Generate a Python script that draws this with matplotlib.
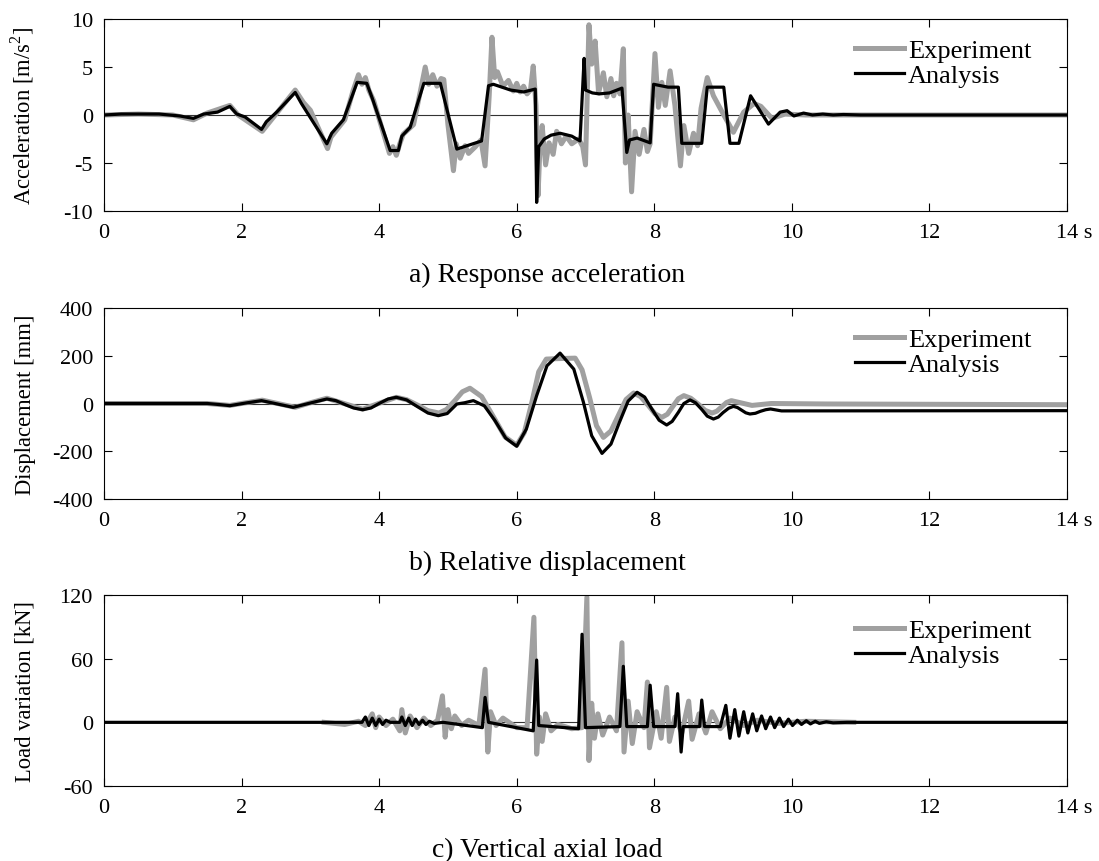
#!/usr/bin/env python3
# -*- coding: utf-8 -*-

import matplotlib
matplotlib.use('Agg')
import matplotlib.pyplot as plt
import matplotlib.transforms as mtrans

plt.rcParams['font.family'] = ['Liberation Serif', 'DejaVu Serif']
plt.rcParams['mathtext.fontset'] = 'custom'
plt.rcParams['mathtext.rm'] = 'Liberation Serif'
plt.rcParams['axes.unicode_minus'] = False

# a) response acceleration [m/s2]
acc_ana_t = [0, 0.25, 0.6, 0.8, 1.1, 1.3, 1.45, 1.65, 1.83, 1.93, 2.05, 2.29, 2.36,
             2.51, 2.78, 2.87, 3.24, 3.31, 3.48, 3.68, 3.82, 3.9, 4.16, 4.28, 4.33,
             4.45, 4.65, 4.89, 5.13, 5.49, 5.59, 5.66, 5.91, 6.1, 6.27, 6.29, 6.32,
             6.4, 6.5, 6.63, 6.8, 6.92, 6.98, 7.0, 7.1, 7.2, 7.35, 7.53, 7.6, 7.64,
             7.75, 7.94, 7.99, 8.2, 8.35, 8.40, 8.69, 8.77, 9.01, 9.10, 9.23, 9.40,
             9.66, 9.83, 9.93, 10.03, 10.17, 10.3, 10.45, 10.6, 10.75, 11.0, 14.0]
acc_ana = [0, 0.1, 0.1, 0.1, -0.1, -0.35, 0.1, 0.3, 0.9, 0.1, -0.2, -1.5, -0.7,
           0.3, 2.35, 1.2, -3.0, -1.9, -0.5, 3.4, 3.3, 1.75, -3.7, -3.7, -2.2,
           -1.3, 3.3, 3.3, -3.55, -2.7, 3.05, 3.2, 2.6, 2.4, 2.7, -9.1, -3.3,
           -2.5, -2.1, -1.9, -2.2, -2.7, 5.9, 2.6, 2.3, 2.2, 2.3, 2.8, -3.9, -2.6,
           -2.4, -2.9, 3.2, 2.9, 2.9, -2.95, -2.95, 2.9, 2.9, -2.95, -2.95, 2.0,
           -0.95, 0.3, 0.45, -0.1, 0.2, 0.0, 0.1, 0.0, 0.05, 0.0, 0.0]

acc_exp_t = [0, 0.5, 1.0, 1.3, 1.5, 1.83, 1.95, 2.3, 2.4, 2.78, 2.9, 3.0, 3.25, 3.3,
             3.5, 3.62, 3.7, 3.75, 3.8, 3.85, 3.92, 4.15, 4.2, 4.25, 4.3, 4.35, 4.5,
             4.6, 4.67, 4.72, 4.78, 4.84, 4.9, 4.94, 5.0, 5.05, 5.08, 5.12, 5.18,
             5.25, 5.3, 5.4, 5.48, 5.54, 5.6, 5.64, 5.68, 5.72, 5.8, 5.88, 5.95,
             6.0, 6.05, 6.1, 6.15, 6.2, 6.24, 6.28, 6.31, 6.34, 6.37, 6.42, 6.47,
             6.53, 6.58, 6.65, 6.72, 6.8, 6.9, 6.96, 7.0, 7.05, 7.09, 7.14, 7.19,
             7.26, 7.31, 7.37, 7.41, 7.45, 7.5, 7.55, 7.58, 7.62, 7.67, 7.72, 7.78,
             7.85, 7.9, 7.94, 8.01, 8.06, 8.11, 8.16, 8.23, 8.3, 8.38, 8.43, 8.5,
             8.57, 8.63, 8.68, 8.77, 8.86, 9.01, 9.15, 9.3, 9.45, 9.55, 9.71, 9.9,
             10.2, 14.0]
acc_exp = [0, 0.1, 0, -0.5, 0.2, 1.0, 0.0, -1.7, -0.8, 2.6, 1.3, 0.5, -3.5, -2.3,
           -0.5, 2.5, 4.2, 3.2, 3.9, 2.6, 1.5, -4.0, -3.3, -4.2, -3.0, -2.0, -1.0,
           2.5, 5.0, 3.2, 4.2, 3.0, 3.8, 3.7, -1.0, -4.0, -5.8, -3.0, -4.5,
           -3.2, -4.0, -3.3, -2.6, -5.3, 2.0, 8.1, 3.9, 4.5, 3.0, 3.6, 2.5,
           3.3, 2.4, 3.0, 2.2, 2.6, 5.1, 1.0, -8.4, -3.0, -1.1, -5.2, -2.9,
           -4.1, -1.7, -3.0, -2.2, -3.0, -2.5, -3.3, -5.2, 9.4, 5.3, 7.7, 2.3,
           4.4, 1.9, 3.8, 2.0, 3.3, 2.2, 6.9, -5.0, 0.0, -8.0, -1.7, -4.1,
           -1.5, -3.8, -3.0, 6.4, 0.8, 3.4, 1.0, 4.6, 1.0, -5.3, -1.1, -4.0,
           -1.9, -3.2, 0.7, 3.9, 2.0, 0.0, -1.8, 0.3, 1.2, 0.9, -0.35, 0.1,
           0.0, 0.0]

# b) relative displacement [mm]
dsp_ana_t = [0, 1.5, 1.66, 1.83, 2.06, 2.29, 2.52, 2.75, 3.0, 3.24, 3.37, 3.5, 3.63,
             3.76, 3.88, 4.0, 4.13, 4.25, 4.4, 4.55, 4.71, 4.86, 4.99, 5.13, 5.24,
             5.37, 5.53, 5.68, 5.84, 6.0, 6.14, 6.29, 6.44, 6.63, 6.83, 6.97, 7.09,
             7.24, 7.37, 7.49, 7.62, 7.75, 7.86, 7.96, 8.07, 8.18, 8.26, 8.35, 8.43,
             8.52, 8.6, 8.69, 8.77, 8.86, 8.93, 9.0, 9.08, 9.15, 9.21, 9.27, 9.33,
             9.39, 9.47, 9.54, 9.62, 9.69, 9.77, 9.85, 14.0]
dsp_ana = [0, 0, -4, -9, 2, 12, -2, -16, 2, 19, 12, -4, -19,
           -26, -19, 0, 19, 26, 15, -12, -40, -51, -42, -2, 3,
           12, -10, -70, -145, -179, -107, 33, 158, 211, 144, 5, -135,
           -209, -170, -81, 10, 47, 27, -21, -70, -90, -75, -37, 0,
           15, 3, -25, -53, -65, -57, -38, -20, -12, -17, -28, -39,
           -44, -41, -33, -26, -23, -27, -31, -30]

dsp_exp_t = [0, 1.5, 1.83, 2.06, 2.3, 2.54, 2.78, 3.0, 3.24, 3.5, 3.76, 4.0, 4.25,
             4.4, 4.56, 4.71, 4.87, 4.98, 5.1, 5.21, 5.32, 5.49, 5.66, 5.83, 6.0,
             6.11, 6.22, 6.32, 6.43, 6.6, 6.85, 6.95, 7.06, 7.16, 7.26, 7.37, 7.48,
             7.59, 7.7, 7.8, 7.91, 8.01, 8.11, 8.19, 8.27, 8.35, 8.43, 8.53, 8.64,
             8.74, 8.84, 8.91, 8.98, 9.05, 9.12, 9.27, 9.42, 9.56, 9.7, 10.5, 14.0]
dsp_exp = [0, 0, -8, 3, 14, -1, -16, 3, 22, -1, -24, 1, 26,
           16, -7, -30, -40, -25, 12, 49, 64, 29, -55, -140, -175,
           -122, 5, 133, 186, 188, 190, 141, 24, -93, -142, -115, -49,
           17, 44, 29, -7, -43, -58, -45, -12, 20, 33, 22, -3,
           -29, -40, -32, -14, 4, 12, 2, -8, -4, 0, -2, -5]

# c) vertical axial load [kN]
load_ana_t = [0, 3.75, 3.8, 3.85, 3.9, 3.95, 4.0, 4.05, 4.1, 4.16, 4.3, 4.33, 4.38,
              4.43, 4.48, 4.53, 4.58, 4.63, 4.68, 4.73, 4.8, 4.93, 5.5, 5.54, 5.59,
              6.24, 6.29, 6.32, 6.9, 6.95, 7.0, 7.5, 7.55, 7.6, 7.9, 7.94, 7.99,
              8.3, 8.34, 8.39, 8.42, 8.66, 8.69, 8.73, 8.96, 9.04, 9.1, 9.17, 9.23,
              9.3, 9.36, 9.43, 9.49, 9.56, 9.62, 9.69, 9.75, 9.82, 9.88, 9.95, 10.01,
              10.08, 10.14, 10.21, 10.27, 10.34, 10.4, 10.5, 10.6, 10.8, 14.0]
load_ana = [0, 0, 5, -3, 4, -3, 3, -2, 2, 0, 0, 5, -3,
            4, -3, 3, -2, 2, -2, 1, -1, 0, -5, 23.5, 0,
            -8, 58.7, -3, -6, 83, -5, -4, 52.8, -4, -4, 35, -4,
            -4, 27, -28, -4, -4, 21, -4, -4, 16, -15, 12, -13,
            10, -10, 8, -8, 6, -6, 5, -5, 4, -4, 3, -3,
            2, -2, 1.5, -1.5, 1, -1, 0.5, -0.5, 0, 0]

load_exp_t = [3.2, 3.5, 3.7, 3.8, 3.9, 3.95, 4.0, 4.1, 4.2, 4.3, 4.33, 4.38, 4.45,
              4.55, 4.65, 4.75, 4.85, 4.92, 4.96, 5.0, 5.05, 5.1, 5.2, 5.3, 5.45,
              5.54, 5.58, 5.62, 5.7, 5.8, 6.0, 6.15, 6.25, 6.29, 6.33, 6.37, 6.42,
              6.5, 6.6, 6.8, 6.95, 7.02, 7.05, 7.09, 7.13, 7.18, 7.25, 7.35, 7.45,
              7.53, 7.56, 7.62, 7.68, 7.75, 7.85, 7.9, 7.93, 8.03, 8.1, 8.18, 8.22,
              8.3, 8.4, 8.5, 8.55, 8.65, 8.75, 8.84, 8.96, 9.1, 9.3, 9.5, 9.8,
              10.2, 10.9]
load_exp = [0, -2, 1, -3, 8, -5, 5, -3, 3, -8, 12, -10, 6,
            -5, 4, -3, 2, 25, -14, 12, -6, 6, -3, 2, -3,
            50, -28, 10, -3, 4, -5, -5, 99, -30, 5, -18, 8,
            -8, -2, -6, -5, 118, -36, 18, -15, 8, -12, 5, -8,
            75, -28, 20, -20, 10, -5, 38, -24, 10, -15, 33, -18,
            5, -10, 20, -16, 8, -10, 10, -6, 4, -3, 2, -1,
            1, 0]

panels = [
    (acc_exp_t, acc_exp, acc_ana_t, acc_ana, (-10, 10), [-10, -5, 0, 5, 10],
     'Acceleration [m/s$^{2}$]', 'a) Response acceleration', 0.771),
    (dsp_exp_t, dsp_exp, dsp_ana_t, dsp_ana, (-400, 400), [-400, -200, 0, 200, 400],
     'Displacement [mm]', 'b) Relative displacement', 0.77),
    (load_exp_t, load_exp, load_ana_t, load_ana, (-60, 120), [-60, 0, 60, 120],
     'Load variation [kN]', 'c) Vertical axial load', 0.749),
]

W, H = 1099, 862
fig = plt.figure(figsize=(W / 100, H / 100), dpi=100)
boxes = [(20, 212), (309, 500), (596, 787)]
left, right = 104, 1067
xt = list(range(0, 15, 2))

for (et, ev, at, av, ylim, yt, ylab, cap, leg_y), (top, bot) in zip(panels, boxes):
    ax = fig.add_axes([left / W, 1 - bot / H, (right - left) / W, (bot - top) / H])
    ax.axhline(0, color='#333333', lw=0.8, zorder=1)
    ax.plot(et, ev, color='#a0a0a0', lw=3.6, label='Experiment', zorder=2)
    ax.plot(at, av, color='black', lw=2.3, label='Analysis', zorder=3)
    ax.set_xlim(0, 14)
    ax.set_ylim(*ylim)
    ax.set_xticks(xt)
    ax.set_xticklabels([str(v) for v in xt[:-1]] + ['14 s'])
    ax.set_yticks(yt)
    ax.set_yticklabels([str(v) for v in yt])
    ax.tick_params(direction='in', top=True, right=True, length=6, width=0.8,
                   labelsize=16)
    ax.tick_params(axis='x', pad=9)
    ax.tick_params(axis='y', pad=8)
    # keep "14" centred on its tick, with the unit trailing
    lab = ax.get_xticklabels()[-1]
    lab.set_ha('left')
    lab.set_transform(lab.get_transform() +
                      mtrans.ScaledTranslation(-8.2 / 72, 0, fig.dpi_scale_trans))
    for s in ax.spines.values():
        s.set_linewidth(0.8)
    ax.set_ylabel(ylab, fontsize=16.3)
    ax.yaxis.set_label_coords(-0.071, 0.5)
    ax.legend(loc='center left', bbox_to_anchor=(0.78, leg_y), frameon=False,
              fontsize=19, handlelength=1.85, handletextpad=0.15, labelspacing=0.08,
              borderpad=0, borderaxespad=0)
    fig.text(0.4977, 1 - (bot + 70) / H, cap, ha='center', va='baseline', fontsize=20)

fig.savefig('out.png', dpi=100)
